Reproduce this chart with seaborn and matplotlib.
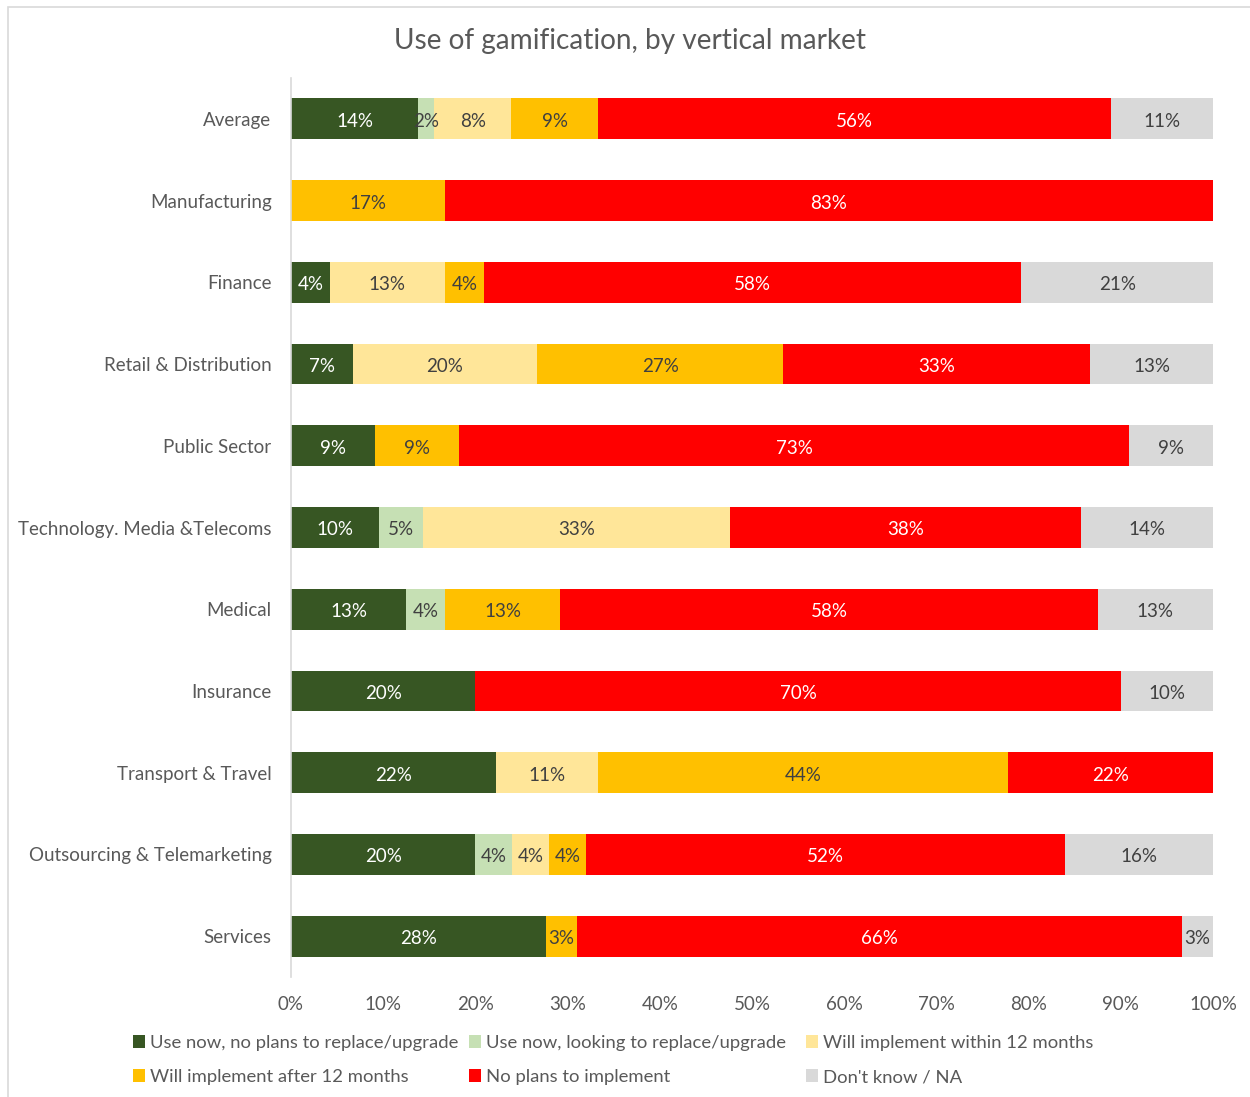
import numpy as np
import pandas as pd
import matplotlib
matplotlib.use("Agg")
import matplotlib.pyplot as plt
from matplotlib.patches import Rectangle, Patch
import seaborn as sns

# Survey responses by vertical market (% of respondents)
categories = [
    "Average",
    "Manufacturing",
    "Finance",
    "Retail & Distribution",
    "Public Sector",
    "Technology. Media &Telecoms",
    "Medical",
    "Insurance",
    "Transport & Travel",
    "Outsourcing & Telemarketing",
    "Services",
]
series_names = [
    "Use now, no plans to replace/upgrade",
    "Use now, looking to replace/upgrade",
    "Will implement within 12 months",
    "Will implement after 12 months",
    "No plans to implement",
    "Don't know / NA",
]
use_no_replace = [13.8, 0, 4.2, 6.7, 9.1, 9.5, 12.5, 20.0, 22.2, 20.0, 27.6]
use_replace = [1.7, 0, 0, 0, 0, 4.8, 4.2, 0, 0, 4.0, 0]
within_12 = [8.4, 0, 12.5, 20.0, 0, 33.3, 0, 0, 11.1, 4.0, 0]
after_12 = [9.4, 16.7, 4.2, 26.7, 9.1, 0, 12.5, 0, 44.4, 4.0, 3.4]
no_plans = [55.6, 83.3, 58.3, 33.3, 72.7, 38.1, 58.3, 70.0, 22.2, 52.0, 65.5]
dont_know = [11.1, 0, 20.8, 13.3, 9.1, 14.3, 12.5, 10.0, 0, 16.0, 3.4]

colors = ["#375623", "#C6E0B4", "#FFE699", "#FFC000", "#FF0000", "#D9D9D9"]
label_colors = ["white", "#404040", "#404040", "#404040", "white", "#404040"]

sns.set_theme(style="white")
plt.rcParams["font.family"] = ["Lato", "DejaVu Sans"]
TXT = "#595959"
FS = 13.5

W, H = 1250, 1097
fig = plt.figure(figsize=(W / 100, H / 100), dpi=100)
ax = fig.add_axes([291 / W, 1 - 977 / H, (1213 - 291) / W, (977 - 78) / H])

values = np.array([use_no_replace, use_replace, within_12, after_12, no_plans, dont_know], dtype=float)
shares = values / values.sum(axis=0) * 100  # 100% stacked
cum = np.cumsum(shares, axis=0)

# Stack by drawing cumulative totals from the outermost segment inwards
for i in range(len(series_names) - 1, -1, -1):
    df = pd.DataFrame({"category": categories, "cum": cum[i]})
    sns.barplot(data=df, x="cum", y="category", order=categories, orient="h",
                color=colors[i], width=0.5, ax=ax, linewidth=0, saturation=1)

# Segment labels
for i in range(len(series_names)):
    for j in range(len(categories)):
        v = values[i, j]
        if v <= 0:
            continue
        centre = cum[i, j] - shares[i, j] / 2
        ax.text(centre, j + 0.03, f"{int(np.floor(v + 0.5))}%", ha="center", va="center",
                color=label_colors[i], fontsize=FS)

ax.set_xlim(0, 100)
ax.set_ylim(len(categories) - 0.5, -0.5)
ax.set_xticks(np.arange(0, 101, 10))
ax.set_xticklabels([f"{t}%" for t in range(0, 101, 10)])
ax.set_xlabel("")
ax.set_ylabel("")
for s in ["top", "right", "bottom"]:
    ax.spines[s].set_visible(False)
ax.spines["left"].set_color("#D9D9D9")
ax.spines["left"].set_linewidth(1.2)
ax.tick_params(axis="y", length=0, pad=14, labelsize=FS, labelcolor=TXT)
ax.tick_params(axis="x", length=0, pad=14, labelsize=FS, labelcolor=TXT)
ax.grid(False)

fig.text(630 / W, 1 - 41 / H, "Use of gamification, by vertical market",
         ha="center", va="center", fontsize=20.2, color=TXT)

# Legend: three columns of two entries each
col_x = [133, 469, 806]
for c in range(3):
    handles = [Patch(facecolor=colors[c], edgecolor="none"),
               Patch(facecolor=colors[c + 3], edgecolor="none")]
    leg = fig.legend(handles, [series_names[c], series_names[c + 3]],
                     loc="upper left", bbox_to_anchor=(col_x[c] / W, 1 - 1035 / H),
                     frameon=False, fontsize=13.3, handlelength=0.65, handleheight=0.65,
                     handletextpad=0.28, labelspacing=0.98, borderaxespad=0,
                     borderpad=0)
    for t in leg.get_texts():
        t.set_color(TXT)

# Chart frame
fig.add_artist(Rectangle((8 / W, -0.05), 1.1, 1 - 7 / H + 0.05, transform=fig.transFigure,
                         fill=False, edgecolor="#D9D9D9", linewidth=1.2))

fig.savefig("out.png", dpi=100, facecolor="white")
